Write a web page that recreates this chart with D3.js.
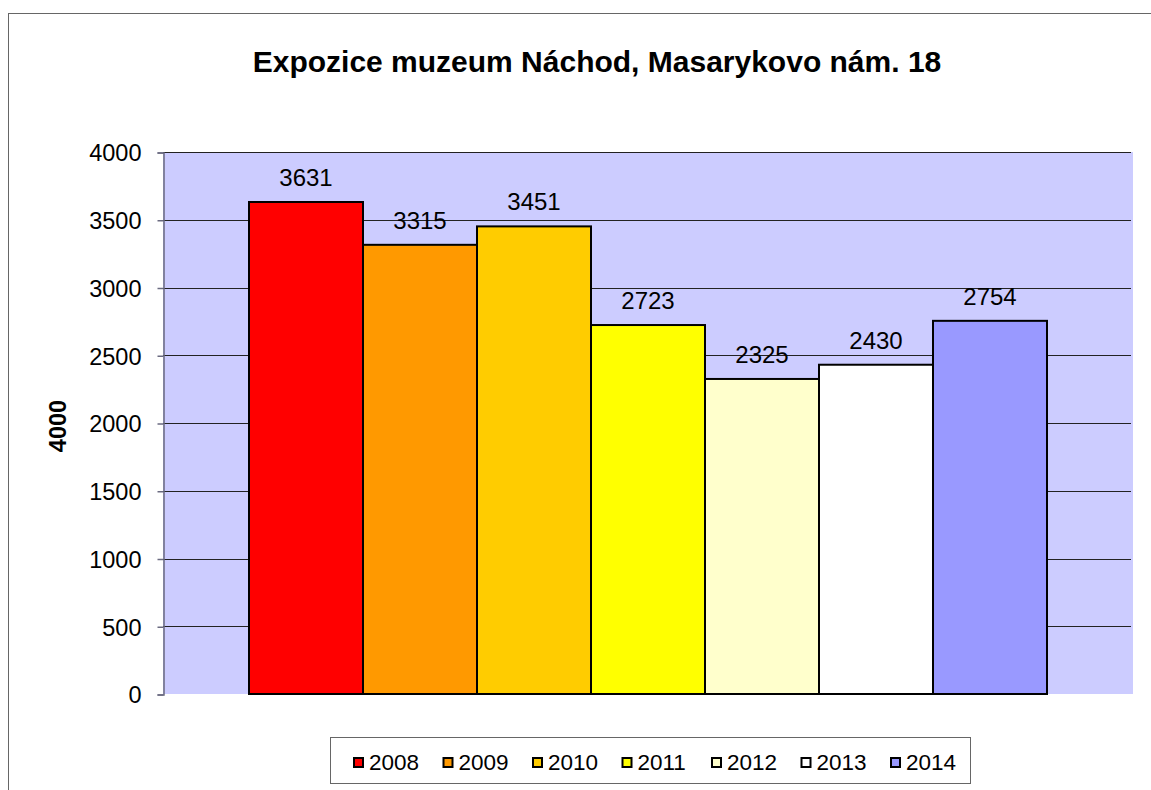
<!DOCTYPE html>
<html>
<head>
<meta charset="utf-8">
<script src="https://cdnjs.cloudflare.com/ajax/libs/d3/7.8.5/d3.min.js"></script>
<style>
  body { margin: 0; background: #fff; }
  svg { display: block; font-family: "Liberation Sans", Arial, sans-serif; }
</style>
</head>
<body>
<div class="canvas-graph"></div>
<script>
const years = ['2008', '2009', '2010', '2011', '2012', '2013', '2014'];
const visitors = [3631, 3315, 3451, 2723, 2325, 2430, 2754];
const barColors = ['#ff0000', '#ff9900', '#ffcc00', '#ffff00', '#ffffcc', '#ffffff', '#9999ff'];
const yTicks = [0, 500, 1000, 1500, 2000, 2500, 3000, 3500, 4000];
const chartTitle = 'Expozice muzeum Náchod, Masarykovo nám. 18';
const yTitle = '4000';

const dims = { width: 1151, height: 790 };
const plot = { left: 163, right: 1133, top: 152, bottom: 694 };

const svg = d3.select('.canvas-graph')
    .append('svg')
    .attr('width', dims.width)
    .attr('height', dims.height);

// outer chart frame (runs off the right and bottom edges)
svg.append('rect')
    .attr('x', 8.5).attr('y', 13.5)
    .attr('width', 1300).attr('height', 1000)
    .attr('fill', '#fff')
    .attr('stroke', '#666')
    .attr('stroke-width', 1);

svg.append('text')
    .attr('x', 597).attr('y', 72)
    .attr('text-anchor', 'middle')
    .attr('font-size', 30)
    .attr('font-weight', 'bold')
    .text(chartTitle);

const y = d3.scaleLinear()
    .domain([0, 4000])
    .range([plot.bottom, plot.top]);

const x = d3.scaleBand()
    .domain(years)
    .range([249, 1047])
    .paddingInner(0);

const color = d3.scaleOrdinal().domain(years).range(barColors);

svg.append('rect')
    .attr('x', plot.left).attr('y', plot.top)
    .attr('width', plot.right - plot.left)
    .attr('height', plot.bottom - plot.top)
    .attr('fill', '#ccccff');

// gridlines
svg.append('g')
    .selectAll('line')
    .data(yTicks.filter(d => d > 0))
    .enter().append('line')
    .attr('x1', plot.left).attr('x2', plot.right - 2)
    .attr('y1', d => Math.round(y(d)) + 0.5)
    .attr('y2', d => Math.round(y(d)) + 0.5)
    .attr('stroke', '#222')
    .attr('stroke-width', 1);

// y axis
const yAxis = svg.append('g')
    .attr('transform', `translate(${plot.left + 0.5}, 0.5)`)
    .call(d3.axisLeft(y).tickValues(yTicks).tickFormat(d3.format('d')).tickSize(6).tickPadding(16));
yAxis.select('.domain').attr('stroke', '#6a6a80').attr('stroke-width', 1.5);
yAxis.selectAll('.tick line').attr('stroke', '#6a6a80').attr('stroke-width', 1.5);
yAxis.selectAll('.tick text')
    .attr('font-size', 23.5)
    .attr('font-family', '"Liberation Sans", Arial, sans-serif')
    .attr('fill', '#000')
    .attr('dy', '0.36em');

svg.append('text')
    .attr('transform', 'translate(66, 426) rotate(-90)')
    .attr('text-anchor', 'middle')
    .attr('font-size', 23.5)
    .attr('font-weight', 'bold')
    .text(yTitle);

const data = years.map((yr, i) => ({ year: yr, value: visitors[i] }));

svg.append('g')
    .selectAll('rect')
    .data(data)
    .enter().append('rect')
    .attr('x', d => x(d.year))
    .attr('y', d => y(d.value))
    .attr('width', x.bandwidth())
    .attr('height', d => y(0) - y(d.value))
    .attr('fill', d => color(d.year))
    .attr('stroke', '#000')
    .attr('stroke-width', 2);

svg.append('g')
    .selectAll('text')
    .data(data)
    .enter().append('text')
    .attr('x', d => x(d.year) + x.bandwidth() / 2)
    .attr('y', d => y(d.value) - 16)
    .attr('text-anchor', 'middle')
    .attr('font-size', 24)
    .text(d => d.value);

// legend
const legendGroup = svg.append('g');
legendGroup.append('rect')
    .attr('x', 330.5).attr('y', 737.5)
    .attr('width', 640).attr('height', 46)
    .attr('fill', '#fff')
    .attr('stroke', '#666')
    .attr('stroke-width', 1);

const item = legendGroup.selectAll('g.item')
    .data(years)
    .enter().append('g')
    .attr('class', 'item')
    .attr('transform', (d, i) => `translate(${353 + i * 89.5}, 0)`);

item.append('rect')
    .attr('x', 1).attr('y', 758)
    .attr('width', 9).attr('height', 9)
    .attr('fill', d => color(d))
    .attr('stroke', '#000')
    .attr('stroke-width', 2);

item.append('text')
    .attr('x', 16).attr('y', 769.5)
    .attr('font-size', 22.5)
    .text(d => d);
</script>
</body>
</html>
